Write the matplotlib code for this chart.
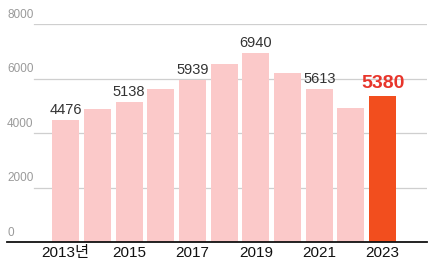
import matplotlib
matplotlib.use("Agg")
import matplotlib.pyplot as plt
import numpy as np

years = [2013, 2014, 2015, 2016, 2017, 2018, 2019, 2020, 2021, 2022, 2023]
values = [4476, 4880, 5138, 5610, 5939, 6530, 6940, 6210, 5613, 4940, 5380]
labeled_years = [2013, 2015, 2017, 2019, 2021, 2023]
xtick_years = [2013, 2015, 2017, 2019, 2021, 2023]
xtick_labels = ["2013년", "2015", "2017", "2019", "2021", "2023"]
yticks = [0, 2000, 4000, 6000, 8000]
ytick_labels = ["0", "2000", "4000", "6000", "8000"]

FONT = ["Liberation Sans", "Noto Sans CJK KR", "DejaVu Sans"]
plt.rcParams["font.family"] = FONT

W, H = 434, 263
fig = plt.figure(figsize=(W / 100, H / 100), dpi=100)
left = 7 / W
right = 427 / W
bottom = (H - 242) / H
top = (H - 24.3) / H
ax = fig.add_axes([left, bottom, right - left, top - bottom])

x = np.arange(len(years))
colors = ["#FBC9C9"] * len(years)
colors[-1] = "#F24E1E"
ax.bar(x, values, width=0.85, color=colors, zorder=2)

ax.set_xlim(-1.853, 11.40)
ax.set_ylim(0, 8000)

# gridlines and y labels
for v, lab in zip(yticks, ytick_labels):
    if v > 0:
        ax.axhline(v, xmin=0.065, xmax=1.0, color="#cfcfcf", lw=0.9, zorder=1)
    ax.annotate(lab, xy=(0, v), xycoords=("axes fraction", "data"),
                xytext=(0, 2.5), textcoords="offset points",
                ha="left", va="bottom", fontsize=8.5, color="#9a9a9a",
                annotation_clip=False)

ax.axhline(0, color="#111111", lw=1.3, zorder=3, clip_on=False)

# value labels
for i, (yr, v) in enumerate(zip(years, values)):
    if yr in labeled_years:
        if i == len(years) - 1:
            ax.annotate(str(v), xy=(i, v), xytext=(0, 2.5), textcoords="offset points",
                        ha="center", va="bottom", fontsize=14, fontweight="bold",
                        color="#E8352B", zorder=4)
        else:
            ax.annotate(str(v), xy=(i, v), xytext=(0, 2.5), textcoords="offset points",
                        ha="center", va="bottom", fontsize=10.5, color="#333333",
                        zorder=4)

ax.set_xticks([years.index(y) for y in xtick_years])
ax.set_xticklabels(xtick_labels, fontsize=11, color="#111111")
ax.tick_params(axis="x", length=0, pad=3)
ax.set_yticks([])
for s in ax.spines.values():
    s.set_visible(False)

fig.savefig("out.png", dpi=100)
